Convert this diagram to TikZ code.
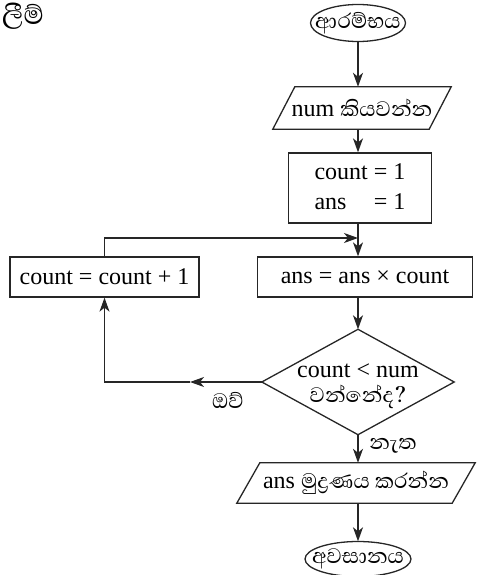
\documentclass[tikz,border=0pt]{standalone}
\usepackage{fontspec}
\setmainfont{Liberation Serif}
\newfontfamily\sinfont[Script=Sinhala,Scale=1.12]{Abhaya Libre}
\usetikzlibrary{arrows.meta,shapes.geometric}
\begin{document}
\begin{tikzpicture}[x=1pt,y=-1pt,
  font=\fontsize{24}{30}\selectfont,
  line/.style={line width=1.3pt, draw=black!85},
  arr/.style={line, -{Stealth[length=14pt,width=10pt,inset=4pt]}},
  box/.style={draw=black!85, line width=1.3pt, rectangle, inner sep=0pt},
  ghost/.style={rectangle, inner sep=0pt, draw=none},
  lbl/.style={inner sep=0pt}]
\useasboundingbox (0,0) rectangle (477,575);

\node[lbl, font=\fontsize{30}{34}\selectfont] (title) at (23,16) {\sinfont ලීම්};

\node[ghost, minimum width=95pt, minimum height=37pt] (start) at (358,23) {\sinfont ආරම්භය};
\draw[line] (start.center) ellipse [x radius=47.5pt, y radius=18.5pt];

\node[ghost, minimum width=156pt, minimum height=42pt] (in) at (362,108) {num {\sinfont කියවන්න}};
\draw[line] ([xshift=-11pt]in.south west) -- ([xshift=-11pt]in.south east) -- ([xshift=11pt]in.north east) -- ([xshift=11pt]in.north west) -- cycle;

\node[box, minimum width=143pt, minimum height=70pt] (init) at (360,188)
  {\begin{tabular}{@{}l@{\ }l@{}}count&= 1\\ans&= 1\end{tabular}};

\node[box, minimum width=215pt, minimum height=40pt] (calc) at (365,277) {ans = ans × count};
\node[box, minimum width=189pt, minimum height=40pt] (inc) at (104.5,277) {count = count + 1};

\node[ghost, minimum width=192pt, minimum height=105pt] (dec) at (358,382) {};
\draw[line] (dec.north) -- (dec.east) -- (dec.south) -- (dec.west) -- cycle;
\node[lbl, align=center, font=\fontsize{24}{25}\selectfont] (dectext) at (358,386) {count < num\\{\sinfont වන්නේද?}};

\node[ghost, minimum width=215pt, minimum height=40pt] (out) at (356,483) {ans {\sinfont මුද්‍රණය කරන්න}};
\draw[line] ([xshift=-11.5pt]out.south west) -- ([xshift=-11.5pt]out.south east) -- ([xshift=11.5pt]out.north east) -- ([xshift=11.5pt]out.north west) -- cycle;

\node[ghost, minimum width=106pt, minimum height=35pt] (end) at (358,559) {\sinfont අවසානය};
\draw[line] (end.center) ellipse [x radius=53pt, y radius=17.5pt];

\node[lbl] (yes) at (228,400) {\sinfont ඔව්};
\node[lbl] (no) at (393,446) {\sinfont නැත};

\coordinate (m) at (358,238);
\coordinate (c1) at (190,382);

\draw[arr] (start.south) -- (start.south |- in.north);
\draw[arr] (start |- in.south) -- (start |- init.north);
\draw[line] (start |- init.south) -- (m);
\draw[arr] (m) -- (start |- calc.north);
\draw[arr] (inc.north) |- (m);
\draw[arr] (start |- calc.south) -- (dec.north);
\draw[arr] (dec.south) -- (dec.south |- out.north);
\draw[arr] (end.north |- out.south) -- (end.north);
\draw[arr] (dec.west) -- (c1);
\draw[arr] (c1) -| (inc.south);
\end{tikzpicture}
\end{document}
